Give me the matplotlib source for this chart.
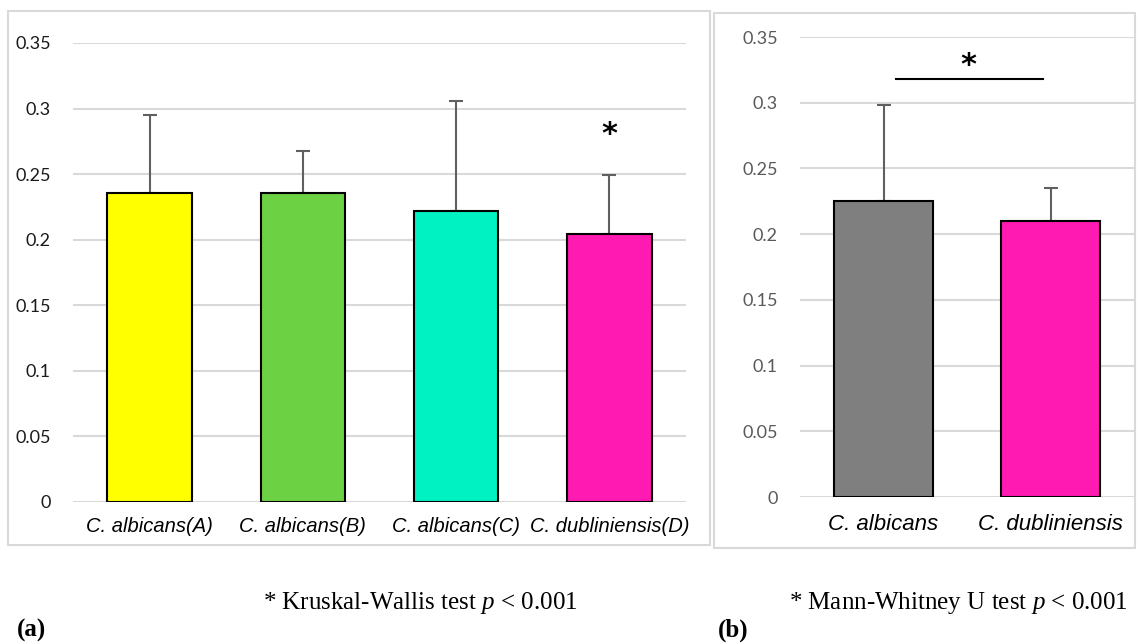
import numpy as np
import matplotlib.pyplot as plt
from matplotlib.patches import Rectangle

plt.rcParams['mathtext.fontset'] = 'custom'
plt.rcParams['mathtext.it'] = 'Liberation Serif:italic'
plt.rcParams['mathtext.rm'] = 'Liberation Serif'

# Panel (a) data
cats_a = ['C. albicans(A)', 'C. albicans(B)', 'C. albicans(C)', 'C. dubliniensis(D)']
means_a = [0.236, 0.236, 0.222, 0.204]
sd_a = [0.059, 0.032, 0.084, 0.045]
colors_a = ['#FFFF00', '#6CD143', '#00F2C3', '#FF1AB1']

# Panel (b) data
cats_b = ['C. albicans', 'C. dubliniensis']
means_b = [0.225, 0.210]
sd_b = [0.073, 0.025]
colors_b = ['#7F7F7F', '#FF1AB1']

yticks = [0, 0.05, 0.1, 0.15, 0.2, 0.25, 0.3, 0.35]
yticklabels = ['0', '0.05', '0.1', '0.15', '0.2', '0.25', '0.3', '0.35']

W, H = 1137, 643
fig = plt.figure(figsize=(W / 100, H / 100), dpi=100)


def px_rect(x0, y0, x1, y1):
    # pixel box (top-left origin) -> figure fraction
    return [x0 / W, 1 - y1 / H, (x1 - x0) / W, (y1 - y0) / H]


# panel borders
for x0, y0, x1, y1 in [(8, 11, 710, 545), (714, 13, 1135, 548)]:
    fig.patches.append(Rectangle((x0 / W, 1 - y1 / H), (x1 - x0) / W, (y1 - y0) / H,
                                 transform=fig.transFigure, fill=False,
                                 edgecolor='#d9d9d9', linewidth=1.5))


def draw_panel(ax, cats, means, sds, colors, width, xfs, tickcol, xpad):
    x = np.arange(len(cats))
    ax.bar(x, means, width=width, color=colors, edgecolor='black', linewidth=1.5, zorder=3)
    ax.errorbar(x, means, yerr=[np.zeros(len(sds)), sds], fmt='none', ecolor='#606060',
                elinewidth=1.5, capsize=5, capthick=1.5, zorder=2)
    ax.set_xlim(-0.5, len(cats) - 0.5)
    ax.set_ylim(0, 0.35)
    ax.set_yticks(yticks)
    ax.set_yticklabels(yticklabels, fontsize=13, color=tickcol, family='Lato')
    ax.set_xticks(x)
    ax.set_xticklabels(cats, fontsize=xfs, style='italic', family='Liberation Sans')
    ax.tick_params(axis='both', length=0)
    ax.tick_params(axis='y', pad=16)
    ax.tick_params(axis='x', pad=xpad)
    ax.grid(axis='y', color='#d9d9d9', linewidth=1.5, zorder=0)
    ax.set_axisbelow(True)
    for s in ax.spines.values():
        s.set_visible(False)


ax1 = fig.add_axes(px_rect(73, 43, 686, 502))
draw_panel(ax1, cats_a, means_a, sd_a, colors_a, 0.55, 14.5, '#1a1a1a', 11)
ax1.text(3, 0.28, '*', ha='center', va='center', fontsize=22, fontweight='bold')

ax2 = fig.add_axes(px_rect(800, 37, 1134, 497))
draw_panel(ax2, cats_b, means_b, sd_b, colors_b, 0.59, 16, '#595959', 12)
ax2.plot([0.073, 0.955], [0.318, 0.318], color='black', linewidth=1.5, clip_on=False)
ax2.text(0.51, 0.328, '*', ha='center', va='center', fontsize=22, fontweight='bold')

# captions
fig.text(420 / W, 1 - 603 / H, '* Kruskal-Wallis test $p$ < 0.001', ha='center', va='center',
         fontsize=18, family='Liberation Serif')
fig.text(1128 / W, 1 - 603 / H, '* Mann-Whitney U test $p$ < 0.001', ha='right', va='center',
         fontsize=18, family='Liberation Serif')
fig.text(17 / W, 1 - 630 / H, '(a)', ha='left', va='center', fontsize=18, fontweight='bold',
         family='Liberation Serif')
fig.text(718 / W, 1 - 630 / H, '(b)', ha='left', va='center', fontsize=18, fontweight='bold',
         family='Liberation Serif')

fig.savefig('out.png', dpi=100)
